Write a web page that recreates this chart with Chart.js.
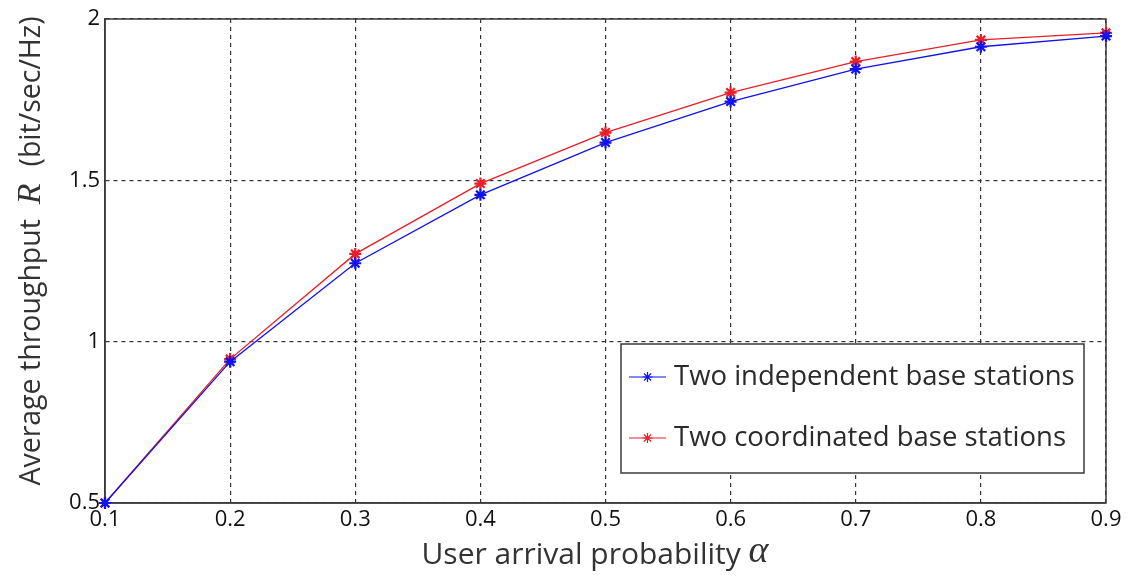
<!DOCTYPE html>
<html>
<head>
<meta charset="utf-8">
<script src="https://cdn.jsdelivr.net/npm/chart.js@4.4.0/dist/chart.umd.min.js"></script>
<style>
  html, body { margin: 0; padding: 0; background: #fff; }
  #wrap { width: 1129px; height: 576px; position: relative; }
</style>
</head>
<body>
<div id="wrap"><canvas id="c" width="1129" height="576"></canvas></div>
<script>
const alphaValues = [0.1, 0.2, 0.3, 0.4, 0.5, 0.6, 0.7, 0.8, 0.9];
const independentBS = [0.5, 0.938, 1.243, 1.455, 1.617, 1.744, 1.845, 1.914, 1.947];
const coordinatedBS = [0.5, 0.946, 1.272, 1.490, 1.648, 1.772, 1.868, 1.935, 1.957];
const seriesNames = ['Two independent base stations', 'Two coordinated base stations'];
const yTickValues = [0.5, 1, 1.5, 2];
const xTitleText = 'User arrival probability';
const xTitleSymbol = 'α';
const yTitleParts = ['Average throughput', 'R', '(bit/sec/Hz)'];

const BLUE = 'rgb(18,18,235)';
const RED = 'rgb(232,30,40)';
const SANS = '"Open Sans", "DejaVu Sans", sans-serif';
const SERIF = '"Liberation Serif", "DejaVu Serif", serif';

const frameAndTitles = {
  id: 'frameAndTitles',
  beforeDatasetsDraw(chart) {
    const {ctx, chartArea: a} = chart;
    ctx.save();
    ctx.strokeStyle = '#3a3a3a';
    ctx.lineWidth = 1.5;
    ctx.setLineDash([]);
    ctx.strokeRect(a.left, a.top, a.right - a.left, a.bottom - a.top);
    ctx.restore();
  },
  afterDraw(chart) {
    const {ctx, chartArea: a} = chart;
    ctx.save();
    ctx.fillStyle = '#333';
    ctx.textBaseline = 'middle';
    // X title
    ctx.font = '30px ' + SANS;
    const w1 = ctx.measureText(xTitleText + ' ').width;
    ctx.font = 'italic 38px ' + SERIF;
    const w2 = ctx.measureText(xTitleSymbol).width;
    const cx = 595;
    let x0 = cx - (w1 + w2) / 2;
    ctx.font = '30px ' + SANS;
    ctx.textAlign = 'left';
    ctx.fillText(xTitleText + ' ', x0, 555);
    ctx.font = 'italic 38px ' + SERIF;
    ctx.fillText(xTitleSymbol, x0 + w1, 552);
    // Y title (rotated)
    ctx.translate(32, 251);
    ctx.rotate(-Math.PI / 2);
    const fonts = ['28.5px ' + SANS, 'italic 34px ' + SERIF, '28.5px ' + SANS];
    const texts = [yTitleParts[0] + '  ', yTitleParts[1] + '  ', yTitleParts[2]];
    let widths = texts.map((t, i) => { ctx.font = fonts[i]; return ctx.measureText(t).width; });
    let total = widths.reduce((s, v) => s + v, 0);
    let px = -total / 2;
    texts.forEach((t, i) => {
      ctx.font = fonts[i];
      ctx.fillText(t, px, i === 1 ? -1 : 0);
      px += widths[i];
    });
    ctx.restore();

    // Legend box inside plot
    ctx.save();
    const box = {x: 621, y: 344, w: 463, h: 129};
    ctx.fillStyle = '#fff';
    ctx.fillRect(box.x, box.y, box.w, box.h);
    ctx.strokeStyle = '#3a3a3a';
    ctx.lineWidth = 1.5;
    ctx.strokeRect(box.x, box.y, box.w, box.h);
    const rows = [377, 438];
    chart.data.datasets.forEach((ds, i) => {
      const y = rows[i];
      ctx.strokeStyle = ds.borderColor;
      ctx.lineWidth = 1.2;
      ctx.beginPath();
      ctx.moveTo(629, y);
      ctx.lineTo(666, y);
      ctx.stroke();
      Chart.helpers.drawPoint(ctx, {pointStyle: 'star', radius: 5, borderWidth: 2}, 647.5, y);
      ctx.fillStyle = '#2a2a2a';
      ctx.font = '27.5px ' + SANS;
      ctx.textAlign = 'left';
      ctx.textBaseline = 'middle';
      ctx.fillText(ds.label, 674, y);
    });
    ctx.restore();
  }
};

const ctx = document.getElementById('c').getContext('2d');
new Chart(ctx, {
  type: 'line',
  data: {
    datasets: [
      {
        label: seriesNames[0],
        data: alphaValues.map((x, i) => ({x, y: independentBS[i]})),
        borderColor: BLUE,
        backgroundColor: BLUE,
        borderWidth: 1.3,
        pointStyle: 'star',
        pointRadius: 6,
        pointBorderWidth: 2.2,
        pointBorderColor: BLUE,
        tension: 0,
        fill: false
      },
      {
        label: seriesNames[1],
        data: alphaValues.map((x, i) => ({x, y: coordinatedBS[i]})),
        borderColor: RED,
        backgroundColor: RED,
        borderWidth: 1.3,
        pointStyle: 'star',
        pointRadius: 6,
        pointBorderWidth: 2.2,
        pointBorderColor: RED,
        tension: 0,
        fill: false
      }
    ]
  },
  options: {
    responsive: false,
    animation: false,
    clip: false,
    layout: { padding: { left: 0, top: 19, right: 23, bottom: 0 } },
    plugins: {
      legend: { display: false },
      tooltip: { enabled: false },
      title: { display: false }
    },
    scales: {
      x: {
        type: 'linear',
        min: 0.1,
        max: 0.9,
        afterFit(scale) { scale.height = 73; },
        afterBuildTicks(scale) { scale.ticks = alphaValues.map(v => ({value: v})); },
        ticks: {
          callback: v => Number(v).toFixed(1),
          color: '#111',
          font: { family: SANS, size: 22 },
          padding: 4,
          maxRotation: 0,
          autoSkip: false
        },
        grid: {
          color: '#333',
          lineWidth: 1.2,
          tickLength: 0,
          drawTicks: false
        },
        border: { display: true, color: '#3a3a3a', width: 1.5, dash: [4, 4] }
      },
      y: {
        type: 'linear',
        min: 0.5,
        max: 2,
        afterFit(scale) { scale.width = 105; },
        afterBuildTicks(scale) { scale.ticks = yTickValues.map(v => ({value: v})); },
        ticks: {
          callback: v => String(v),
          color: '#111',
          font: { family: SANS, size: 22 },
          padding: 5
        },
        grid: {
          color: '#333',
          lineWidth: 1.2,
          tickLength: 0,
          drawTicks: false
        },
        border: { display: true, color: '#3a3a3a', width: 1.5, dash: [4, 4] }
      }
    }
  },
  plugins: [frameAndTitles]
});
</script>
</body>
</html>
